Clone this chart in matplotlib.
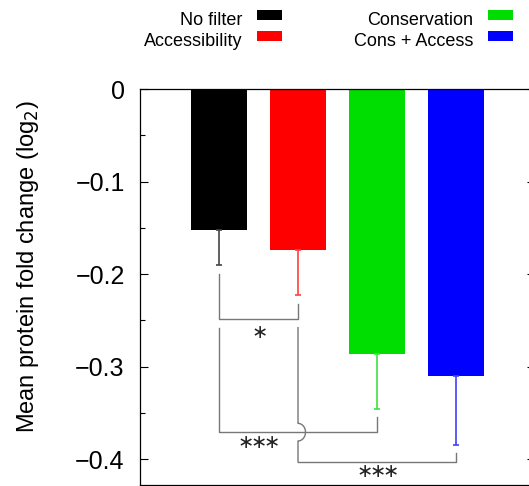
import numpy as np
import matplotlib.pyplot as plt
from matplotlib.patches import Rectangle

plt.rcParams['font.family'] = ['Liberation Sans', 'DejaVu Sans']
plt.rcParams['mathtext.fontset'] = 'dejavusans'

labels = ['No filter', 'Accessibility', 'Conservation', 'Cons + Access']
colors = ['#000000', '#ff0000', '#00dd00', '#0000ff']
err_colors = ['#444444', '#ff4040', '#40e040', '#4040ff']
means = [-0.152, -0.174, -0.286, -0.310]
errs = [0.038, 0.049, 0.060, 0.075]
yticks = [0, -0.1, -0.2, -0.3, -0.4]
yticklabels = ['0', '\u22120.1', '\u22120.2', '\u22120.3', '\u22120.4']
# comparisons: (bar i, bar j, bracket level, number of stars, label x)
brackets = [(0, 1, -0.249, 1, 1.5), (0, 2, -0.371, 3, 1.5), (1, 3, -0.403, 3, 3.0)]

W, H = 529, 486
fig = plt.figure(figsize=(W / 100, H / 100), dpi=100)

def fx(x):
    return x / W

def fy(y):
    return 1 - y / H

ax = fig.add_axes([fx(140), fy(485), fx(535 - 140), (485 - 89) / H])
x = np.arange(1, len(means) + 1)
ax.bar(x, means, width=0.71, color=colors, linewidth=0, zorder=2)
for xi, m, e, c in zip(x, means, errs, err_colors):
    ax.errorbar(xi, m, yerr=[[e], [0]], fmt='none', ecolor=c, elinewidth=1.2,
                capsize=2.5, capthick=1.2, zorder=3)

ax.set_xticks([])
ax.set_yticks(yticks)
ax.set_yticklabels(yticklabels, fontsize=18)
ax.set_yticks([-0.35, -0.25, -0.15, -0.05], minor=True)
ax.set_xlim(0, 5)
ax.set_ylim(-(485 - 89) / 925, 0)
ax.tick_params(axis='y', which='both', direction='in', right=True, pad=11)
ax.tick_params(axis='y', which='major', length=6, width=0.8)
ax.tick_params(axis='y', which='minor', length=3.5, width=0.8)
for s in ax.spines.values():
    s.set_linewidth(0.9)
fig.text(fx(28), fy(267), 'Mean protein fold change (log$_2$)', rotation=90,
         ha='center', va='center', fontsize=17)

# significance brackets
gray = '#777777'
ends = [m - e for m, e in zip(means, errs)]
hop_y = brackets[1][2]
for k, (i, j, lvl, nstar, lx) in enumerate(brackets):
    top_i = ends[i] - 0.01 if k == 0 else -0.258
    top_j = ends[j] - 0.009
    xi, xj = x[i], x[j]
    if k == 2:
        # vertical of red bar hops over the other bracket line
        ry, rx = 0.0095, 0.095
        t = np.linspace(0, np.pi, 30)
        vx = np.concatenate([[xi, xi], xi + rx * np.sin(t), [xi, xi]])
        vy = np.concatenate([[top_i, hop_y + ry], hop_y + ry * np.cos(t), [hop_y - ry, lvl]])
        ax.plot(vx, vy, color=gray, lw=1.0, zorder=4)
        ax.plot([xi, xj, xj], [lvl, lvl, top_j], color=gray, lw=1.0, zorder=4)
    else:
        ax.plot([xi, xi, xj, xj], [top_i, lvl, lvl, top_j], color=gray, lw=1.0, zorder=4)
    dy = -14 if k == 0 else -11
    stars = '$' + r'\!'.join([r'{\ast}'] * nstar) + '$'
    ax.annotate(stars, (lx, lvl), xytext=(0, dy * 0.72),
                textcoords='offset points', ha='center', va='center',
                fontsize=14, color='#222222', zorder=4)

# legend drawn by hand in two columns
text_right = [242, 242, 473, 473]
base = [25, 46, 25, 46]
sw_top = [10, 31, 10, 31]
for lab, c, tr, b, st in zip(labels, colors, text_right, base, sw_top):
    fig.text(fx(tr), fy(b), lab, ha='right', va='baseline', fontsize=13)
    fig.patches.append(Rectangle((fx(tr + 15), fy(st + 10.5)), fx(25), 10.5 / H,
                                 transform=fig.transFigure, color=c, linewidth=0))

fig.savefig('out.png', dpi=100)
